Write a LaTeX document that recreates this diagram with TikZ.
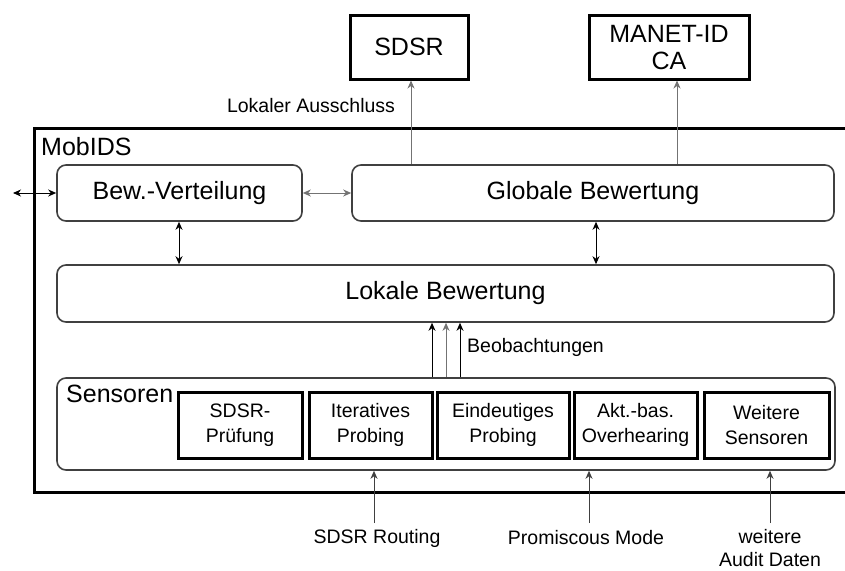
\documentclass[tikz,border=0pt]{standalone}
\usepackage{fontspec}
\setmainfont{Liberation Sans}
\usetikzlibrary{arrows.meta}
\definecolor{edgegray}{gray}{0.25}
\definecolor{linegray}{gray}{0.45}
\tikzset{
  big/.style={font=\fontsize{25}{30}\selectfont},
  small/.style={font=\fontsize{19.5}{25}\selectfont},
  rbox/.style={draw=edgegray, line width=1.6pt, rounded corners=9pt, inner sep=0pt, big},
  hbox/.style={draw=black, line width=3pt, inner sep=0pt, align=center},
  tip/.style={-{Stealth[length=8pt,width=7pt,inset=2.5pt]}},
  dtip/.style={{Stealth[length=8pt,width=7pt,inset=2.5pt]}-{Stealth[length=8pt,width=7pt,inset=2.5pt]}},
  arr/.style={tip, line width=1pt},
  darr/.style={dtip, line width=1pt},
  lab/.style={inner sep=0pt, small, align=center}
}
\begin{document}
\begin{tikzpicture}[x=1pt, y=-1pt]
\useasboundingbox (0,0) rectangle (845,570);
\fill[white] (0,0) rectangle (845,570);

% outer MobIDS frame (open to the right)
\draw[line width=3pt] (846,128) -- (34,128) -- (34,492) -- (846,492);
\node[anchor=west, inner sep=0pt, big] (mobids) at (41,147) {MobIDS};

% external boxes
\node[hbox, big, minimum width=118pt, minimum height=64pt] (sdsr) at (409,47) {SDSR};
\node[hbox, big, minimum width=160pt, minimum height=64pt, text depth=0pt] (manet) at (669,47)
  {MANET-ID\\[-3pt]CA};

% evaluation layer
\node[rbox, minimum width=245pt, minimum height=56pt] (bew) at (179.5,193) {Bew.-Verteilung};
\node[rbox, minimum width=482pt, minimum height=56pt] (glob) at (593,193) {Globale Bewertung};
\node[rbox, minimum width=777pt, minimum height=57pt] (lok) at (445.5,293.5) {Lokale Bewertung};

% sensors
\node[rbox, minimum width=778pt, minimum height=92pt] (sens) at (446,424) {};
\node[anchor=west, inner sep=0pt, big] (senslab) at (66,394) {Sensoren};
\node[hbox, small, minimum width=124pt, minimum height=66pt] (s1) at (240,425) {SDSR-\\Prüfung};
\node[hbox, small, minimum width=123pt, minimum height=66pt] (s2) at (370.5,425) {Iteratives\\Probing};
\node[hbox, small, minimum width=132pt, minimum height=66pt] (s3) at (503,425) {Eindeutiges\\Probing};
\node[hbox, small, minimum width=123pt, minimum height=66pt] (s4) at (635.5,425) {Akt.-bas.\\Overhearing};
\node[hbox, small, minimum width=125pt, minimum height=66pt] (s5) at (766.5,425) {Weitere\\Sensoren};

% outputs to the outside
\draw[arr, draw=linegray] (glob.north -| 411,0) -- (sdsr.south -| 411,0);
\draw[arr, draw=linegray] (glob.north -| 677,0) -- (manet.south -| 677,0);
\node[lab] (aus) at (311,106) {Lokaler Ausschluss};

% horizontal exchange
\coordinate (ext) at (13,193);
\draw[darr] (ext) -- (bew.west);
\draw[darr, draw=linegray] (bew.east) -- (glob.west);

% vertical exchange
\draw[darr] (bew.south -| 179,0) -- (lok.north -| 179,0);
\draw[darr] (glob.south -| 596,0) -- (lok.north -| 596,0);

% observations
\draw[arr] (sens.north -| 432,0) -- (lok.south -| 432,0);
\draw[arr, draw=linegray] (sens.north -| 446,0) -- (lok.south -| 446,0);
\draw[arr] (sens.north -| 460,0) -- (lok.south -| 460,0);
\node[lab, anchor=west] (beob) at (467,347) {Beobachtungen};

% inputs from below
\node[lab] (rout) at (377,538) {SDSR Routing};
\node[lab] (prom) at (586,538) {Promiscous Mode};
\node[lab, font=\fontsize{19.5}{23}\selectfont] (audit) at (770,548) {weitere\\Audit Daten};
\coordinate (in1) at (374,523);
\coordinate (in2) at (589,523);
\coordinate (in3) at (770,523);
\draw[arr, draw=edgegray] (in1) -- (sens.south -| in1);
\draw[arr, draw=edgegray] (in2) -- (sens.south -| in2);
\draw[arr, draw=edgegray] (in3) -- (sens.south -| in3);
\end{tikzpicture}
\end{document}
